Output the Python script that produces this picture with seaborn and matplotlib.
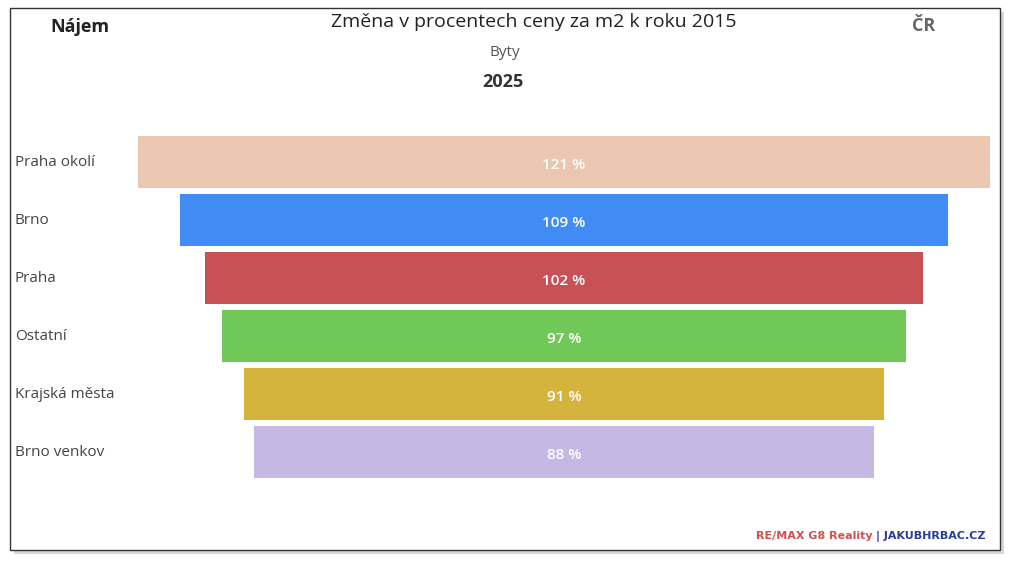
import matplotlib
matplotlib.use("Agg")
import matplotlib.pyplot as plt
import seaborn as sns
import pandas as pd
from matplotlib.patches import Rectangle

categories = ["Praha okolí", "Brno", "Praha", "Ostatní", "Krajská města", "Brno venkov"]
values = [121, 109, 102, 97, 91, 88]
colors = ["#EBC6B0", "#418BF5", "#C85155", "#6FC858", "#D4B43C", "#C5B8E2"]
labels = [f"{v} %" for v in values]

sns.set_theme(style="white")
plt.rcParams['font.family'] = ['Open Sans', 'DejaVu Sans']
W, H = 1024, 578
fig = plt.figure(figsize=(W/100, H/100), dpi=100)
fig.patch.set_facecolor("white")

fig.patches.append(Rectangle((14/W, 1-554/H), 990/W, 542/H, transform=fig.transFigure,
                             facecolor="#bbbbbb", edgecolor="none", zorder=0, alpha=0.6))
fig.patches.append(Rectangle((10/W, 1-550/H), 990/W, 542/H, transform=fig.transFigure,
                             facecolor="white", edgecolor="#333333", lw=1, zorder=1))

ax = fig.add_axes([138/W, 1-481/H, (990-138)/W, (481-133)/H])
ax.set_zorder(2)
df = pd.DataFrame({"cat": categories, "val": values})
sns.barplot(data=df, y="cat", x="val", hue="cat", palette=colors, legend=False,
            width=0.9, ax=ax, saturation=1, edgecolor="none")
for p, v, lab in zip(ax.patches, values, labels):
    p.set_x(-v/2)
    ax.text(0, p.get_y()+p.get_height()/2 + 0.05, lab, ha="center", va="center",
            color="white", fontsize=11, fontweight="semibold")
ax.set_xlim(-60.5, 60.5)
ax.set_ylim(5.5, -0.5)
ax.axis("off")

for i, c in enumerate(categories):
    y = 136 + 26 + i*58
    fig.text(15/W, 1-y/H, c, ha="left", va="center", fontsize=11, color="#444444")

fig.text(80/W, 1-27/H, "Nájem", ha="center", va="center", fontsize=13, fontweight="bold", color="#222222")
fig.text(534/W, 1-22/H, "Změna v procentech ceny za m2 k roku 2015", ha="center", va="center", fontsize=14, fontweight="medium", color="#222222")
fig.text(505/W, 1-52/H, "Byty", ha="center", va="center", fontsize=11, color="#555555")
fig.text(503/W, 1-82/H, "2025", ha="center", va="center", fontsize=13, fontweight="bold", color="#333333")
fig.text(924/W, 1-26/H, "ČR", ha="center", va="center", fontsize=13, fontweight="bold", color="#666666")
fig.text(873/W, 1-536/H, "RE/MAX G8 Reality", ha="right", va="center", fontsize=8, fontweight="bold", color="#d05050", family="DejaVu Sans")
fig.text(986/W, 1-536/H, "| JAKUBHRBAC.CZ", ha="right", va="center", fontsize=8, fontweight="bold", color="#2a3b9a", family="DejaVu Sans")

fig.savefig("out.png", dpi=100)
